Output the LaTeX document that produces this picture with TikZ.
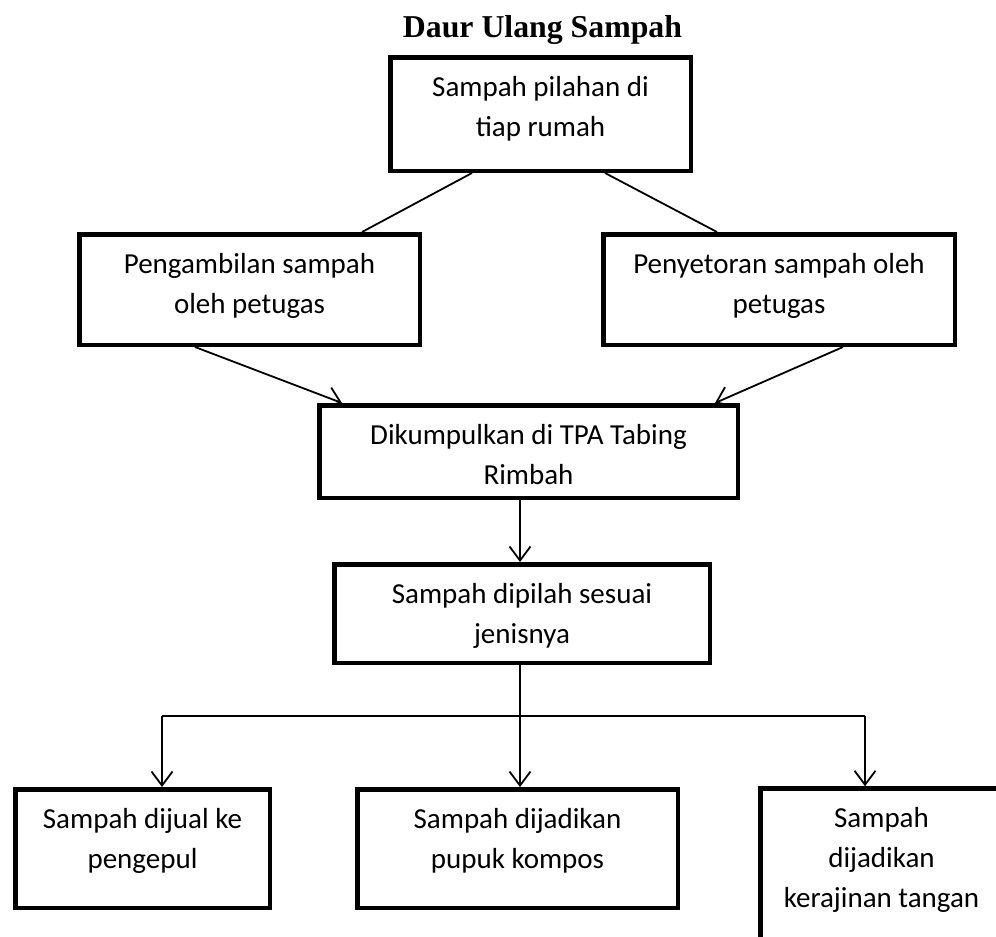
\documentclass[tikz,border=0pt]{standalone}
\usepackage{fontspec}
\setmainfont{Carlito}
\newfontfamily\titlefont{Liberation Serif}
\usetikzlibrary{arrows.meta}
% text block inside a box: fixed size, lines start from the top
\newcommand{\boxtxt}[3]{\parbox[c][#2][t]{#1}{\centering\rule{0pt}{39pt}#3}}
\begin{document}
\begin{tikzpicture}[x=1pt,y=-1pt,
  box/.style={draw,line width=4.5pt,inner sep=0pt,font=\fontsize{29}{40}\selectfont},
  conn/.style={line width=1.8pt},
  arr/.style={conn,-{Straight Barb[length=14pt,width=21pt]}}]
\useasboundingbox (0,0) rectangle (996,937);
\clip (0,0) rectangle (996,937);
%
\node[font=\titlefont\bfseries\fontsize{31.8}{36}\selectfont,anchor=base] (title) at (542.5,37) {Daur Ulang Sampah};
\node[box] (top) at (540.5,114) {\boxtxt{300.5pt}{113.5pt}{Sampah pilahan di\\tiap rumah}};
\node[box] (peng) at (249.5,289.5) {\boxtxt{340.5pt}{110.5pt}{Pengambilan sampah\\oleh petugas}};
\node[box] (setor) at (779,289.5) {\boxtxt{351.5pt}{110.5pt}{Penyetoran sampah oleh\\petugas}};
\node[box] (tpa) at (528.5,451.5) {\boxtxt{418.5pt}{92.5pt}{Dikumpulkan di TPA Tabing\\Rimbah}};
\node[box] (pilah) at (522,613.5) {\boxtxt{375.5pt}{98.5pt}{Sampah dipilah sesuai\\jenisnya}};
\node[box] (jual) at (142.5,848.5) {\boxtxt{254.5pt}{118.5pt}{Sampah dijual ke\\pengepul}};
\node[box] (kompos) at (517.5,848.5) {\boxtxt{320.5pt}{118.5pt}{Sampah dijadikan\\pupuk kompos}};
\node[box] (kerajinan) at (881.5,873.5) {\boxtxt{242.5pt}{170pt}{Sampah\\dijadikan\\kerajinan tangan}};
%
\draw[conn] ([xshift=-68.5pt]top.south) -- ([xshift=112.5pt]peng.north);
\draw[conn] ([xshift=64.5pt]top.south) -- ([xshift=-62pt]setor.north);
\draw[arr] ([xshift=-54.5pt]peng.south) -- ([xshift=-186.5pt]tpa.north);
\draw[arr] ([xshift=64pt]setor.south) -- ([xshift=186.5pt]tpa.north);
\draw[arr] ([xshift=-8.5pt]tpa.south) -- ([xshift=-8.5pt]tpa.south |- pilah.north);
%
\coordinate (split) at (520,716);
\coordinate (bl) at (162,716);
\coordinate (br) at (865,716);
\draw[conn] ([xshift=-2pt]pilah.south) -- (split);
\draw[conn] (bl) -- (br);
\draw[arr] (bl) -- (bl |- jual.north);
\draw[arr] (split) -- (split |- kompos.north);
\draw[arr] (br) -- (br |- kerajinan.north);
\end{tikzpicture}
\end{document}
